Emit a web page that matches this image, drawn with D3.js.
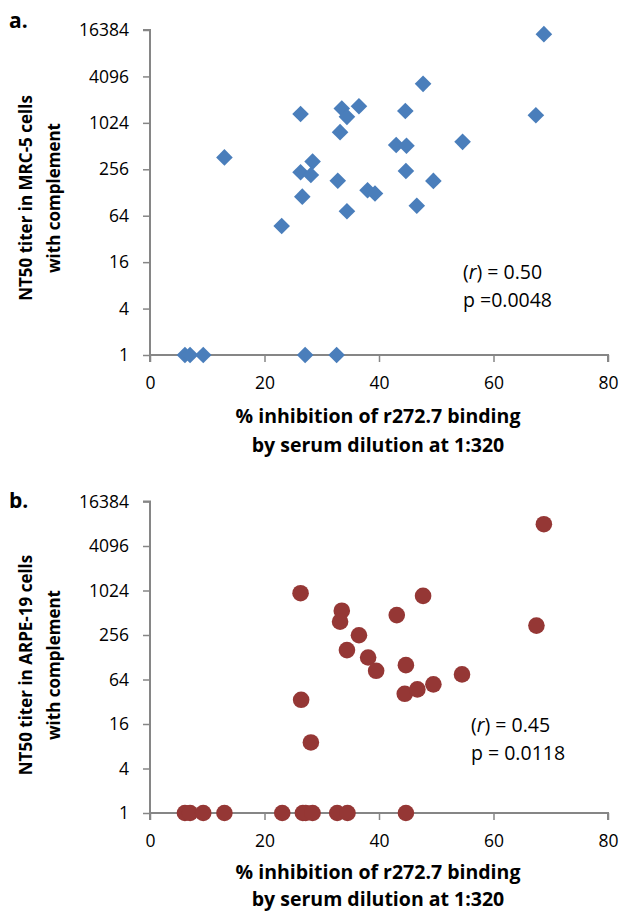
<!DOCTYPE html>
<html><head><meta charset="utf-8">
<script src="https://cdn.jsdelivr.net/npm/d3@7/dist/d3.min.js"></script>
<style>body{margin:0;background:#fff}svg{display:block}text{font-family:"Open Sans",sans-serif}</style>
</head><body><div id="chart"></div>
<script>
// Panel a: MRC-5 cells (x = % inhibition, y = NT50 titer)
const mrc5X = [13.0,26.3,33.5,34.4,36.5,33.2,28.4,26.3,28.1,32.8,38.0,39.3,26.6,23.0,34.4,68.8,47.7,44.6,67.4,43.0,44.8,54.6,44.7,49.5,46.6,6.1,7.0,9.3,27.1,32.6];
const mrc5Y = [365,1332,1574,1226,1683,776,322,234,216,182,137,124,113,47,73,14470,3280,1458,1283,528,517,581,243,181,86,1,1,1,1,1];
// Panel b: ARPE-19 cells
const arpeX = [26.3,33.5,33.2,36.5,34.4,38.1,68.8,47.7,43.1,67.5,39.5,26.4,28.1,44.7,44.5,46.7,49.5,54.5,6.1,7.0,9.3,13.0,23.1,26.7,27.2,28.4,32.7,34.5,44.7];
const arpeY = [942,546,388,254,160,127,8070,866,476,343,84,34,9,100,41,47,55,75,1,1,1,1,1,1,1,1,1,1,1];
const xTicks = [0,20,40,60,80];
const yTicks = [1,4,16,64,256,1024,4096,16384];
const xTitle = ["% inhibition of r272.7 binding","by serum dilution at 1:320"];

const W = 621, H = 912;
const svg = d3.select("#chart").append("svg").attr("width",W).attr("height",H);
const axisColor = "#868686";

function panel(cfg){
  const x = d3.scaleLinear().domain([0,80]).range([150,608]);
  const y = d3.scaleLog().base(2).domain([1,16384]).range([cfg.y0, cfg.y1]);
  const g = svg.append("g");
  const ya = g.append("g").attr("transform","translate(150,0)")
    .call(d3.axisLeft(y).tickValues(yTicks).tickFormat(d3.format("d")).tickSize(7).tickPadding(14));
  const xa = g.append("g").attr("transform",`translate(0,${cfg.y0})`)
    .call(d3.axisBottom(x).tickValues(xTicks).tickSize(7).tickPadding(15));
  [ya,xa].forEach(a=>{
    a.select(".domain").attr("stroke",axisColor).attr("stroke-width",2);
    a.selectAll(".tick line").attr("stroke",axisColor).attr("stroke-width",1.5);
    a.selectAll(".tick text").attr("fill","#000").style("font-size","17.5px");
  });
  ya.select(".domain").attr("d",`M-7,${cfg.y1}H0V${cfg.y0}`);
  xa.select(".domain").attr("d",`M150,7V0H608V7`);
  const data = cfg.xs.map((v,i)=>({x:v,y:cfg.ys[i]}));
  if(cfg.shape==="diamond"){
    g.append("g").selectAll("path").data(data).join("path")
      .attr("d", d3.symbol().type(d3.symbolSquare).size(138))
      .attr("transform", d=>`translate(${x(d.x)},${y(d.y)}) rotate(45)`)
      .attr("fill", cfg.color);
  } else {
    g.append("g").selectAll("circle").data(data).join("circle")
      .attr("cx", d=>x(d.x)).attr("cy", d=>y(d.y)).attr("r", 8.3)
      .attr("fill", cfg.color);
  }
  const t1 = g.append("text").attr("x",cfg.ax).attr("y",cfg.ay).style("font-size","19.5px");
  t1.append("tspan").text("(");
  t1.append("tspan").attr("font-style","italic").text("r");
  t1.append("tspan").text(") = " + cfg.r);
  g.append("text").attr("x",cfg.ax).attr("y",cfg.ay+28).style("font-size","19.5px").text(cfg.p);
  xTitle.forEach((s,i)=>g.append("text").attr("x",378).attr("y",cfg.y0+cfg.tOff+i*cfg.tGap)
    .attr("text-anchor","middle").attr("font-weight","bold").style("font-size","19.5px").text(s));
  cfg.yTitle.forEach((s,i)=>g.append("text")
    .attr("transform",`translate(${32+i*28},${cfg.yc}) rotate(-90)`)
    .attr("text-anchor","middle").attr("font-weight","bold").style("font-size","17px").text(s));
  g.append("text").attr("x",9).attr("y",cfg.labY).attr("font-weight","bold").style("font-size","21px").text(cfg.label);
}

panel({y0:355, y1:30, xs:mrc5X, ys:mrc5Y, shape:"diamond", color:"#4A7EBB", tOff:68, tGap:28.5,
  r:"0.50", p:"p =0.0048", ax:463, ay:279, yTitle:["NT50 titer in MRC-5 cells","with complement"], yc:198, label:"a.", labY:28});
panel({y0:813, y1:501.5, xs:arpeX, ys:arpeY, shape:"circle", color:"#953735", tOff:66, tGap:27,
  r:"0.45", p:"p = 0.0118", ax:471, ay:732, yTitle:["NT50 titer in ARPE-19 cells","with complement"], yc:665, label:"b.", labY:508});
</script></body></html>
